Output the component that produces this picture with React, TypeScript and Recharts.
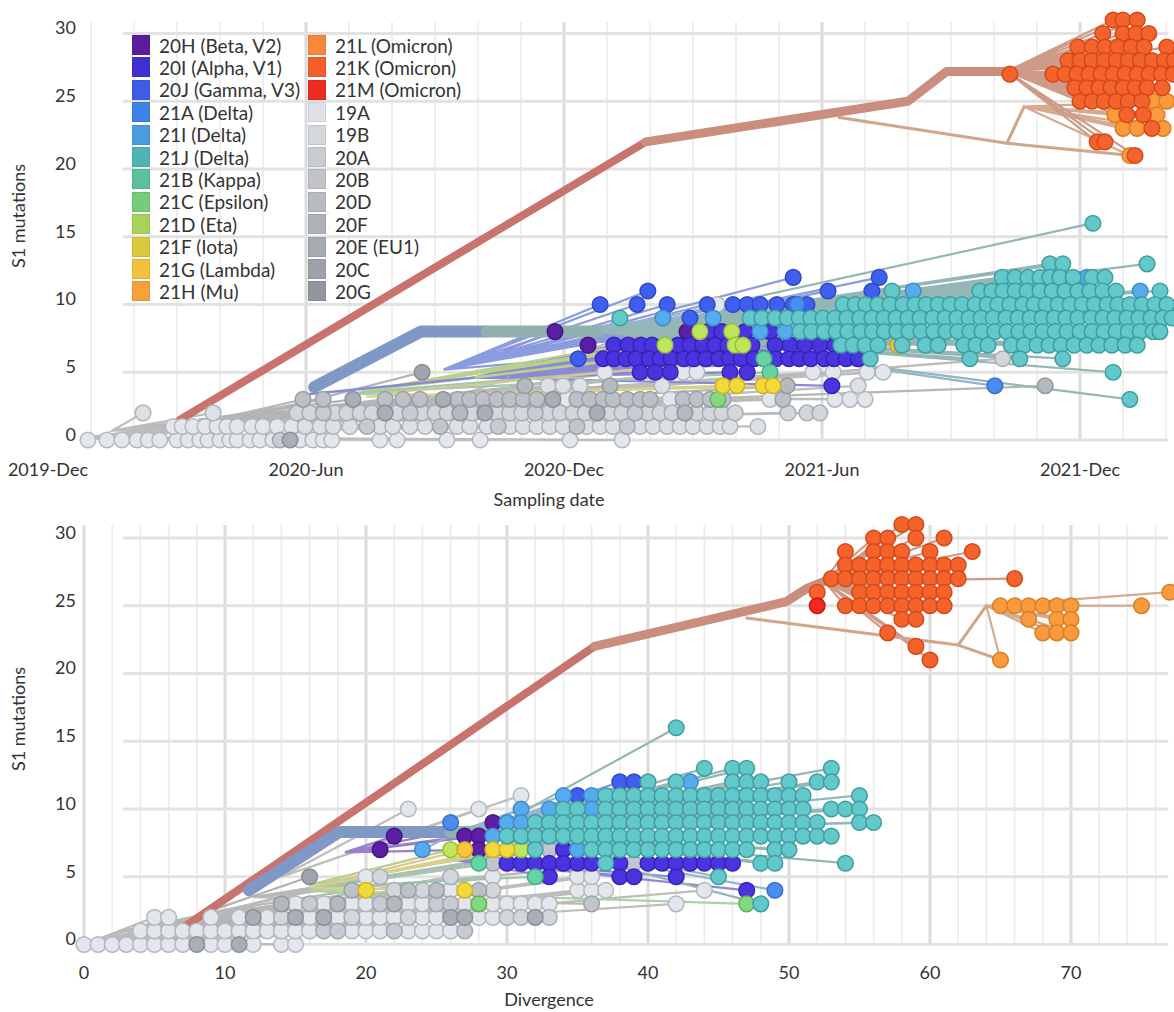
import React from "react";
import { ScatterChart, Scatter, XAxis, YAxis, ReferenceLine } from "recharts";

type Row = [number, number[]]; // [S1 mutations, x values]
type XY = [number, number];

// clade colours: legend swatch, tip fill, tip outline, branch line
const CLADE: Record<string, { legend: string; fill: string; stroke: string; line: string }> = {
  "20H": { legend: "#5a1d9e", fill: "#5d1ea6", stroke: "#461483", line: "#9a80c8" },
  "20I": { legend: "#3f30d4", fill: "#4a34e0", stroke: "#3524b5", line: "#8d88d6" },
  "20J": { legend: "#3d5de6", fill: "#3f5ff0", stroke: "#2f48c4", line: "#8a9be0" },
  "21A": { legend: "#3f82e6", fill: "#4a8cf0", stroke: "#3470c8", line: "#93b3d6" },
  "21I": { legend: "#4a9ddc", fill: "#56aaee", stroke: "#3d8cc8", line: "#93b6d6" },
  "21J": { legend: "#50b3b6", fill: "#62c8ca", stroke: "#3f9ea0", line: "#94b6b4" },
  "21B": { legend: "#5cc19a", fill: "#66d3a4", stroke: "#47ad82", line: "#99c9ae" },
  "21C": { legend: "#77cd77", fill: "#86d87e", stroke: "#62b35c", line: "#a8d3a6" },
  "21D": { legend: "#a7d25c", fill: "#bde65a", stroke: "#99c23e", line: "#b9cf8c" },
  "21F": { legend: "#d9c93d", fill: "#f2d83a", stroke: "#cdb321", line: "#d9cf8a" },
  "21G": { legend: "#f1c23e", fill: "#f8c53e", stroke: "#d6a221", line: "#dcc48e" },
  "21H": { legend: "#f7a13a", fill: "#f8a83e", stroke: "#d98a22", line: "#dcb48e" },
  "21L": { legend: "#f7883b", fill: "#f99a3e", stroke: "#dd7d22", line: "#d6aa8e" },
  "21K": { legend: "#f25d2b", fill: "#f5632d", stroke: "#d54818", line: "#cf9a87" },
  "21M": { legend: "#ed2b22", fill: "#f02a1f", stroke: "#c91810", line: "#cf8a80" },
  "19A": { legend: "#dfe3e7", fill: "#e3e7ec", stroke: "#b3b8be", line: "#bdbdbd" },
  "19B": { legend: "#d4d8dc", fill: "#dde1e6", stroke: "#afb4ba", line: "#bdbdbd" },
  "20A": { legend: "#c9cdd1", fill: "#d3d7dc", stroke: "#a9aeb4", line: "#bababa" },
  "20B": { legend: "#c0c4c9", fill: "#c8ccd2", stroke: "#a2a7ad", line: "#bababa" },
  "20D": { legend: "#b8bcc1", fill: "#c2c6cc", stroke: "#9ea3a9", line: "#b8b8b8" },
  "20F": { legend: "#aeb2b8", fill: "#bcc0c7", stroke: "#9a9fa6", line: "#b8b8b8" },
  "20E": { legend: "#a6aab1", fill: "#b4b8bf", stroke: "#93989f", line: "#b6b6b6" },
  "20C": { legend: "#9ea2aa", fill: "#aaaeb6", stroke: "#8b9098", line: "#b4b4b4" },
  "20G": { legend: "#9296a0", fill: "#a0a4ad", stroke: "#858a93", line: "#b2b2b2" },
};

const legendCol1: [string, string][] = [
  ["20H", "20H (Beta, V2)"], ["20I", "20I (Alpha, V1)"], ["20J", "20J (Gamma, V3)"],
  ["21A", "21A (Delta)"], ["21I", "21I (Delta)"], ["21J", "21J (Delta)"],
  ["21B", "21B (Kappa)"], ["21C", "21C (Epsilon)"], ["21D", "21D (Eta)"],
  ["21F", "21F (Iota)"], ["21G", "21G (Lambda)"], ["21H", "21H (Mu)"],
];
const legendCol2: [string, string][] = [
  ["21L", "21L (Omicron)"], ["21K", "21K (Omicron)"], ["21M", "21M (Omicron)"],
  ["19A", "19A"], ["19B", "19B"], ["20A", "20A"], ["20B", "20B"], ["20D", "20D"],
  ["20F", "20F"], ["20E", "20E (EU1)"], ["20C", "20C"], ["20G", "20G"],
];

const yTicks = [0, 5, 10, 15, 20, 25, 30];

// ---------------- top panel: x = months since 2019-12-01 ----------------
const topXTicks = [0, 6, 12, 18, 24];
const topXTickLabels = ["2019-Dec", "2020-Jun", "2020-Dec", "2021-Jun", "2021-Dec"];
const topMinorLines = [1, 2, 3, 4, 5, 7, 8, 9, 10, 11, 13, 14, 15, 16, 17, 19, 20, 21, 22, 23, 25, 26];
const topMajorLines = [6, 12, 18, 24];

const top19A: Row[] = [
  [0, [0.93, 1.37, 1.72, 2.07, 2.33, 2.6, 3.0, 3.26, 3.53, 3.72, 4.0, 4.23, 4.4, 4.7, 4.93, 5.23, 5.86, 6.16, 6.4, 6.6, 7.72, 8.12, 9.28, 10.05, 12.14, 13.35]],
  [1, [2.91, 3.12, 3.37, 3.65, 3.93, 4.16, 4.4, 4.74, 5.0, 5.33, 5.67]],
  [3, [12.07, 14.47]],
];
const top19AHigh: Row[] = [
  [3, [16.79, 18.3, 18.65, 19.0]],
  [5, [12.95, 14.77, 15.09, 17.79, 18.26, 19.05, 19.42]],
  [7, [17.3]],
  [10, [15.56]],
];
const top19B: Row[] = [
  [1, [5.98, 6.33, 6.63, 7.02, 7.72, 8.02, 8.42, 8.77, 9.51, 9.81, 10.21, 10.74, 11.05, 11.37, 11.67, 11.98, 12.53, 12.84, 13.14, 13.77, 14.07, 14.4, 14.7, 15.0, 15.33, 15.63, 15.86, 16.51]],
  [2, [2.21, 3.84]],
  [4, [11.63, 11.98, 12.37, 14.28, 18.84]],
];
const top20A: Row[] = [
  [2, [5.79, 6.09, 6.67, 6.95, 7.26, 7.53, 8.12, 8.7, 9.0, 9.28, 9.86, 10.44, 10.74, 11.02, 11.63, 11.91, 12.21, 12.49, 13.07, 13.35, 13.95, 14.23, 14.51, 15.09, 15.4, 15.67, 15.98, 17.21, 17.65, 17.95]],
  [6, [22.2]],
];
const top20B: Row[] = [
  [0, [5.4]],
  [1, [7.42, 10.47, 13.47]],
  [2, [6.4, 8.42, 11.33, 13.65]],
];
const top20D: Row[] = [[1, [9.12, 12.3]]];
const top20F: Row[] = [
  [3, [5.93, 6.4, 7.84, 8.26, 8.65, 9.53, 9.81, 10.12, 10.44, 10.74, 11.05, 11.37, 12.3, 12.6, 12.91, 13.14, 13.47, 13.77, 14.0, 14.77, 15.09, 15.4, 15.7, 17.09]],
];
const top20E: Row[] = [
  [2, [9.58, 14.81]],
  [4, [11.09, 13.07, 17.19, 23.19]],
];
const top20C: Row[] = [
  [0, [5.63]],
  [2, [7.84, 10.16, 12.77]],
  [3, [7.09, 9.19, 11.74]],
];
const top20G: Row[] = [[5, [8.7]]];

const top20H: Row[] = [[8, [11.79, 14.86, 15.56]], [7, [12.56]]];
const top20I: Row[] = [
  [8, [15.35, 15.67, 16.21, 16.79]],
  [7, [13.16, 13.49, 13.79, 14.05, 14.65, 14.93, 15.23, 15.51, 15.81, 16.37, 16.91, 17.26, 17.6, 17.95, 18.3]],
  [6, [12.91, 13.16, 13.44, 13.67, 13.98, 14.23, 14.49, 14.79, 15.02, 15.3, 15.6, 15.84, 16.12, 16.42, 16.65, 16.93, 17.23, 17.47, 17.74, 18.05, 18.28, 18.56, 18.84]],
  [5, [13.77, 14.12, 14.47, 15.86, 16.26]],
  [4, [18.23]],
];
const top20J: Row[] = [
  [12, [17.33, 19.33]],
  [11, [13.95, 18.14, 19.16]],
  [10, [12.84, 13.7, 14.4, 15.33, 15.93, 16.26, 16.56, 16.95, 17.33, 17.65]],
  [9, [14.93]],
  [6, [12.33]],
];
const top21A: Row[] = [[10, [17.42]], [4, [22.02]]];
const top21I: Row[] = [[12, [24.16]], [11, [20.12, 25.4]], [9, [14.3, 15.47]], [8, [16.56, 17.14]]];
const top21B: Row[] = [[6, [16.65]], [5, [16.79]]];
const top21C: Row[] = [[3, [15.58]]];
const top21D: Row[] = [[8, [15.16, 15.9]], [7, [14.35, 15.98, 16.16]]];
const top21F: Row[] = [[4, [15.7, 16.02, 16.63, 16.86]]];
const top21G: Row[] = [[7, [19.77]]];
const top21J: Row[] = [
  [16, [24.3]],
  [13, [23.3, 23.6, 25.56]],
  [12, [22.19, 22.49, 22.79, 23.07, 23.3, 23.53, 23.84, 24.28, 24.58]],
  [11, [19.63, 21.67, 21.95, 22.21, 22.49, 22.77, 23.07, 23.35, 23.65, 23.95, 24.23, 24.53, 24.84, 25.86]],
  [10, [18.49, 18.77, 19.02, 19.3, 19.58, 19.88, 20.16, 20.42, 20.7, 20.98, 21.26, 21.56, 21.84, 22.09, 22.37, 22.67, 22.93, 23.21, 23.49, 23.77, 24.05, 24.33, 24.63, 24.88, 25.16, 25.44, 25.74, 26.02]],
  [9, [13.3, 16.33, 16.6, 16.91, 17.19, 17.47, 17.74, 18.02, 18.3, 18.58, 18.88, 19.16, 19.44, 19.72, 20.0, 20.28, 20.58, 20.86, 21.14, 21.42, 21.7, 21.98, 22.28, 22.56, 22.84, 23.12, 23.4, 23.67, 23.95, 24.26, 24.53, 24.81, 25.09, 25.37, 25.65, 25.93, 26.14]],
  [8, [17.49, 17.75, 18.05, 18.33, 18.6, 18.9, 19.17, 19.45, 19.74, 20.02, 20.3, 20.6, 20.88, 21.16, 21.44, 21.72, 22.02, 22.3, 22.58, 22.86, 23.14, 23.42, 23.7, 24.0, 24.28, 24.56, 24.84, 25.12, 25.4, 25.7, 25.86]],
  [7, [18.44, 18.72, 19.0, 19.3, 19.86, 20.4, 20.7, 21.3, 21.58, 21.86, 22.4, 22.7, 23.0, 23.28, 23.56, 23.86, 24.16, 24.44, 24.74, 25.05, 25.33]],
  [6, [19.12, 21.44, 22.6, 23.6]],
  [5, [24.77]],
  [3, [25.16]],
];
const top21L: Row[] = [[25, [25.7, 26.02]], [24, [24.81, 25.79]], [23, [25.0, 25.33, 25.93]], [21, [25.16]]];
const top21K: Row[] = [
  [31, [24.77, 25.0, 25.33]],
  [30, [24.53, 25.0, 25.3, 25.6]],
  [29, [23.95, 24.28, 24.58, 24.88, 25.19, 25.49, 26.02]],
  [28, [23.72, 24.0, 24.28, 24.56, 24.84, 25.12, 25.4, 25.68, 25.96, 26.19]],
  [27, [22.37, 23.37, 23.65, 23.93, 24.21, 24.49, 24.77, 25.05, 25.33, 25.61, 25.89, 26.17]],
  [26, [23.88, 24.16, 24.44, 24.72, 25.0, 25.28, 25.56, 25.91]],
  [25, [24.0, 24.28, 24.56, 24.84, 25.12, 25.44]],
  [24, [25.09, 25.47]],
  [23, [25.67]],
  [22, [24.4, 24.58]],
  [21, [25.28]],
];

// internal branches (thick trunks and a few inner nodes)
const topOmicronTrunkLow: XY[] = [[3.07, 1.5], [13.9, 22]];
const topOmicronTrunkHigh: XY[] = [[13.9, 22], [20.0, 25], [20.9, 27.2], [22.3, 27.2]];
const topOmicronSide: XY[] = [[18.4, 23.8], [22.3, 21.9], [22.7, 24.6]];
const topOmicronSide2: XY[] = [[22.3, 21.9], [25.2, 21]];
const topAlphaTrunk: XY[] = [[6.19, 3.9], [8.67, 8], [10.2, 8]];
const topDeltaTrunk: XY[] = [[10.2, 8], [12.8, 8]];
const topAlphaStem: XY[] = [[5.8, 3.3], [9.9, 4.6]];

// ---------------- bottom panel: x = divergence ----------------
const bottomXTicks = [0, 10, 20, 30, 40, 50, 60, 70];
const bottomMinorLines = [2, 4, 6, 8, 12, 14, 16, 18, 22, 24, 26, 28, 32, 34, 36, 38, 42, 44, 46, 48, 52, 54, 56, 58, 62, 64, 66, 68, 72, 74, 76];
const bottomMajorLines = [0, 10, 20, 30, 40, 50, 60, 70];

const bottom19A: Row[] = [
  [0, [0, 1, 2, 3, 4, 5, 6, 7, 9, 10, 12, 14, 15]],
  [1, [4, 5, 6, 7, 8, 9, 10, 11, 12, 13, 14, 15, 16, 19, 20, 21, 23, 24, 25, 26]],
  [2, [5, 6, 9, 11, 13, 16, 18, 20, 21, 22, 24, 25, 28, 29]],
  [3, [15, 17, 19, 20, 23, 24, 27, 29, 30, 31, 32, 33, 42]],
  [4, [26, 35, 36, 37, 44]],
  [5, [20, 29, 35, 36]],
];
const bottom19AHigh: Row[] = [[10, [23, 28]], [11, [31]]];
const bottom20A: Row[] = [[2, [14, 19, 23, 30, 31, 33]], [4, [22, 24, 29]], [5, [21, 26]]];
const bottom20B: Row[] = [[1, [17, 18, 22, 27]], [3, [16, 21, 25, 26]]];
const bottom20C: Row[] = [[0, [8, 11]], [2, [12, 15, 17, 26, 27, 32]]];
const bottom20D: Row[] = [[3, [36]], [6, [29, 39]], [7, [33]]];
const bottom20E: Row[] = [[3, [14, 18, 22]]];
const bottom20F: Row[] = [[4, [19, 23, 25, 28]]];
const bottom20G: Row[] = [[5, [16]]];

const bottom20H: Row[] = [[9, [29]], [8, [22, 27, 28]], [7, [21, 28]]];
const bottom20I: Row[] = [
  [7, [34]],
  [6, [30, 31, 32, 33, 34, 35, 36, 38, 40, 41, 42, 43, 44, 45, 46]],
  [5, [33, 38, 39, 42]],
  [4, [47]],
];
const bottom20J: Row[] = [[12, [38, 39]], [11, [35]]];
const bottom21A: Row[] = [[9, [26]], [4, [49]]];
const bottom21I: Row[] = [[12, [43]], [11, [34, 36]], [10, [31, 33, 36]], [9, [30, 31]], [8, [29]], [7, [24, 35]]];
const bottom21B: Row[] = [[6, [28]], [5, [32]]];
const bottom21C: Row[] = [[3, [28, 47]]];
const bottom21D: Row[] = [[7, [26, 31]]];
const bottom21F: Row[] = [[7, [29, 30]], [4, [20, 27]]];
const bottom21G: Row[] = [[7, [27]]];
const bottom21J: Row[] = [
  [16, [42]],
  [13, [44, 46, 47, 53]],
  [12, [40, 42, 46, 47, 48, 50, 52, 53]],
  [11, [37, 38, 39, 40, 41, 42, 43, 44, 45, 46, 47, 48, 49, 50, 51, 55]],
  [10, [34, 35, 37, 38, 39, 40, 41, 42, 43, 44, 45, 46, 47, 48, 49, 50, 51, 53, 54, 55]],
  [9, [32, 33, 34, 35, 36, 37, 38, 39, 40, 41, 42, 43, 44, 45, 46, 47, 48, 49, 50, 51, 52, 55, 56]],
  [8, [30, 31, 32, 33, 34, 35, 36, 37, 38, 39, 40, 41, 42, 43, 44, 45, 46, 47, 48, 49, 50, 51, 52, 53]],
  [7, [32, 36, 37, 38, 39, 40, 41, 42, 43, 44, 45, 46, 47, 49, 50]],
  [6, [37, 48, 49, 54]],
  [5, [45]],
  [3, [48]],
];
const bottom21L: Row[] = [[26, [77]], [25, [65, 66, 67, 68, 69, 70, 75]], [24, [67, 69, 70]], [23, [68, 69, 70]], [21, [65]]];
const bottom21K: Row[] = [
  [31, [58, 59]],
  [30, [56, 57, 59, 61]],
  [29, [54, 56, 57, 58, 60, 63]],
  [28, [54, 55, 56, 57, 58, 59, 60, 61, 62]],
  [27, [53, 54, 55, 56, 57, 58, 59, 60, 61, 62, 66]],
  [26, [52, 55, 56, 57, 58, 59, 60, 61]],
  [25, [54, 55, 56, 57, 58, 59, 60, 61]],
  [24, [58, 59]],
  [23, [57]],
  [22, [59]],
  [21, [60]],
];
const bottom21M: Row[] = [[25, [52]]];

const bottomOmicronTrunkLow: XY[] = [[7.4, 1.5], [36.2, 22]];
const bottomOmicronTrunkHigh: XY[] = [[36.2, 22], [49.8, 25.3], [51.3, 26.3], [52.5, 26.8]];
const bottomOmicronSide: XY[] = [[47, 24.1], [62, 22.1], [64, 25]];
const bottomOmicronSide2: XY[] = [[62, 22.1], [65, 21]];
const bottomAlphaTrunk: XY[] = [[11.7, 4], [18.1, 8.3], [26, 8.3]];
const bottomDeltaTrunk: XY[] = [[26, 8.3], [29.5, 8.3]];

// ---------------- helpers ----------------
interface Group { clade: string; rows: Row[]; root: XY }
interface Branch { pts: XY[]; color: string; width: number }

const toPoints = (rows: Row[]) => rows.flatMap(([y, xs]) => xs.map((x) => ({ x, y })));
const fanPath = (root: XY, rows: Row[]) =>
  toPoints(rows).flatMap((p) => [{ x: root[0], y: root[1] }, p]);

const topGroups: Group[] = [
  { clade: "19A", rows: top19A, root: [0.9, 0.2] },
  { clade: "19A", rows: top19AHigh, root: [9.5, 3.2] },
  { clade: "19B", rows: top19B, root: [1.5, 0.7] },
  { clade: "20A", rows: top20A, root: [2.4, 1.1] },
  { clade: "20B", rows: top20B, root: [2.2, 1.0] },
  { clade: "20D", rows: top20D, root: [3.0, 1.2] },
  { clade: "20F", rows: top20F, root: [4.0, 1.6] },
  { clade: "20E", rows: top20E, root: [4.5, 1.8] },
  { clade: "20C", rows: top20C, root: [3.5, 1.5] },
  { clade: "20G", rows: top20G, root: [5.0, 2.0] },
  { clade: "20H", rows: top20H, root: [10.6, 6.6] },
  { clade: "20J", rows: top20J, root: [9.2, 5.2] },
  { clade: "20I", rows: top20I, root: [9.9, 4.6] },
  { clade: "21A", rows: top21A, root: [12.6, 8.3] },
  { clade: "21I", rows: top21I, root: [12.6, 8.3] },
  { clade: "21B", rows: top21B, root: [7.2, 3.5] },
  { clade: "21C", rows: top21C, root: [7.2, 3.4] },
  { clade: "21D", rows: top21D, root: [7.3, 3.6] },
  { clade: "21F", rows: top21F, root: [7.4, 3.2] },
  { clade: "21G", rows: top21G, root: [7.6, 3.4] },
  { clade: "21J", rows: top21J, root: [12.8, 8.0] },
  { clade: "21L", rows: top21L, root: [22.7, 24.6] },
  { clade: "21K", rows: top21K, root: [22.3, 27.2] },
];

const topBranches: Branch[] = [
  { pts: topAlphaStem, color: "#8d88d6", width: 2.5 },
  { pts: topOmicronSide, color: "#d2a58a", width: 3 },
  { pts: topOmicronSide2, color: "#d2a58a", width: 3 },
  { pts: topOmicronTrunkLow, color: "#c9736f", width: 8 },
  { pts: topOmicronTrunkHigh, color: "#c98e7d", width: 9 },
  { pts: topAlphaTrunk, color: "#7f98c6", width: 12 },
  { pts: topDeltaTrunk, color: "#90b1af", width: 12 },
];

const bottomGroups: Group[] = [
  { clade: "19A", rows: bottom19A, root: [0.5, 0.2] },
  { clade: "19A", rows: bottom19AHigh, root: [14, 5] },
  { clade: "20A", rows: bottom20A, root: [3, 1] },
  { clade: "20B", rows: bottom20B, root: [2.5, 1] },
  { clade: "20C", rows: bottom20C, root: [4, 1.2] },
  { clade: "20D", rows: bottom20D, root: [12, 3.5] },
  { clade: "20E", rows: bottom20E, root: [6, 1.5] },
  { clade: "20F", rows: bottom20F, root: [8, 2.2] },
  { clade: "20G", rows: bottom20G, root: [9, 2.5] },
  { clade: "20H", rows: bottom20H, root: [18.5, 6.8] },
  { clade: "20J", rows: bottom20J, root: [27, 8] },
  { clade: "20I", rows: bottom20I, root: [26, 6.3] },
  { clade: "21A", rows: bottom21A, root: [26.5, 8.3] },
  { clade: "21I", rows: bottom21I, root: [26.5, 8.3] },
  { clade: "21B", rows: bottom21B, root: [16, 4.2] },
  { clade: "21C", rows: bottom21C, root: [16, 4.0] },
  { clade: "21D", rows: bottom21D, root: [16, 4.4] },
  { clade: "21F", rows: bottom21F, root: [16, 4.2] },
  { clade: "21G", rows: bottom21G, root: [16.5, 4.3] },
  { clade: "21J", rows: bottom21J, root: [28.5, 8.3] },
  { clade: "21L", rows: bottom21L, root: [64, 25] },
  { clade: "21K", rows: bottom21K, root: [52.5, 26.8] },
  { clade: "21M", rows: bottom21M, root: [51.5, 26.4] },
];

const bottomBranches: Branch[] = [
  { pts: bottomOmicronSide, color: "#d2a58a", width: 3 },
  { pts: bottomOmicronSide2, color: "#d2a58a", width: 3 },
  { pts: bottomOmicronTrunkLow, color: "#c9736f", width: 8 },
  { pts: bottomOmicronTrunkHigh, color: "#c98e7d", width: 9 },
  { pts: bottomAlphaTrunk, color: "#7f98c6", width: 12 },
  { pts: bottomDeltaTrunk, color: "#90b1af", width: 12 },
];

const FONT = "Lato, 'Open Sans', sans-serif";
const TEXT = "#333";

const tipShape = (clade: string) => (p: any) => (
  <circle cx={p.cx} cy={p.cy} r={7.8} fill={CLADE[clade].fill} stroke={CLADE[clade].stroke} strokeWidth={1.5} />
);
const noShape = () => <g />;

interface PanelProps {
  top: number;
  height: number;
  marginTop: number;
  xAxisHeight: number;
  xDomain: [number, number];
  yDomain: [number, number];
  xTicks: number[];
  xTickText: (v: number) => string;
  xTickBaseline: number;
  minorLines: number[];
  majorLines: number[];
  vTop: number;
  hFrom: number;
  hTo: number;
  groups: Group[];
  branches: Branch[];
  xTitle: string;
  xTitleBaseline: number;
  yTitleCenter: number;
}

function TreePanel(p: PanelProps) {
  return (
    <div style={{ position: "absolute", left: 0, top: p.top, width: 1174, height: p.height }}>
      <ScatterChart
        width={1174}
        height={p.height}
        margin={{ top: p.marginTop, right: 0, bottom: 0, left: 0 }}
        style={{ overflow: "visible" }}
      >
        <XAxis
          type="number"
          dataKey="x"
          domain={p.xDomain}
          allowDataOverflow
          ticks={p.xTicks}
          interval={0}
          axisLine={false}
          tickLine={false}
          height={p.xAxisHeight}
          tick={(t: any) => (
            <text x={t.x} y={p.xTickBaseline} textAnchor="middle" fontSize={18} fill={TEXT} fontFamily={FONT}>
              {p.xTickText(t.payload.value)}
            </text>
          )}
          label={{
            content: () => (
              <text x={549} y={p.xTitleBaseline} textAnchor="middle" fontSize={18} fill={TEXT} fontFamily={FONT}>
                {p.xTitle}
              </text>
            ),
          }}
        />
        <YAxis
          type="number"
          dataKey="y"
          domain={p.yDomain}
          allowDataOverflow
          ticks={yTicks}
          interval={0}
          axisLine={false}
          tickLine={false}
          width={40}
          tick={(t: any) => (
            <text x={76} y={t.y + 1} textAnchor="end" fontSize={18} fill={TEXT} fontFamily={FONT}>
              {t.payload.value}
            </text>
          )}
          label={{
            content: () => (
              <text
                transform={`translate(25, ${p.yTitleCenter}) rotate(-90)`}
                textAnchor="middle"
                fontSize={18}
                fill={TEXT}
                fontFamily={FONT}
              >
                S1 mutations
              </text>
            ),
          }}
        />

        {p.minorLines.map((v) => (
          <ReferenceLine key={`vm${v}`} segment={[{ x: v, y: 0 }, { x: v, y: p.vTop }]} stroke="#ebebeb" strokeWidth={1.6} />
        ))}
        {p.majorLines.map((v) => (
          <ReferenceLine key={`vM${v}`} segment={[{ x: v, y: 0 }, { x: v, y: p.vTop }]} stroke="#dcdcdc" strokeWidth={3} />
        ))}
        {yTicks.map((v) => (
          <ReferenceLine key={`h${v}`} segment={[{ x: p.hFrom, y: v }, { x: p.hTo, y: v }]} stroke="#e2e2e2" strokeWidth={3} />
        ))}

        {p.groups.map((g, i) => (
          <Scatter
            key={`fan${i}`}
            data={fanPath(g.root, g.rows)}
            line={{ stroke: CLADE[g.clade].line, strokeWidth: 2.2, fill: "none" }}
            shape={noShape}
            isAnimationActive={false}
          />
        ))}
        {p.branches.map((b, i) => (
          <Scatter
            key={`br${i}`}
            data={b.pts.map(([x, y]) => ({ x, y }))}
            line={{ stroke: b.color, strokeWidth: b.width, fill: "none", strokeLinejoin: "round", strokeLinecap: "round" }}
            shape={noShape}
            isAnimationActive={false}
          />
        ))}
        {p.groups.map((g, i) => (
          <Scatter key={`tip${i}`} data={toPoints(g.rows)} shape={tipShape(g.clade)} isAnimationActive={false} />
        ))}
      </ScatterChart>
    </div>
  );
}

function Legend() {
  const col = (items: [string, string][], left: number) =>
    items.map(([clade, label], i) => (
      <div
        key={clade}
        style={{ position: "absolute", left, top: 35 + i * 22.4, height: 20, display: "flex", alignItems: "center" }}
      >
        <div
          style={{
            width: 18,
            height: 20,
            background: CLADE[clade].legend,
            boxShadow: "inset 0 0 0 1px rgba(0,0,0,0.08)",
            marginRight: 9,
            flexShrink: 0,
          }}
        />
        <span style={{ fontSize: 19, color: TEXT, fontFamily: FONT, whiteSpace: "nowrap" }}>{label}</span>
      </div>
    ));
  return (
    <>
      {col(legendCol1, 132)}
      {col(legendCol2, 308)}
    </>
  );
}

export default function App() {
  return (
    <div style={{ position: "absolute", left: 0, top: 0, width: 1174, height: 1012, background: "#fff", overflow: "hidden" }}>
      <TreePanel
        top={0}
        height={512}
        marginTop={10}
        xAxisHeight={52}
        xDomain={[-0.186, 26.186]}
        yDomain={[-1.476, 31.734]}
        xTicks={topXTicks}
        xTickText={(v) => topXTickLabels[topXTicks.indexOf(v)]}
        xTickBaseline={476}
        minorLines={topMinorLines}
        majorLines={topMajorLines}
        vTop={30.85}
        hFrom={1.74}
        hTo={26.05}
        groups={topGroups}
        branches={topBranches}
        xTitle="Sampling date"
        xTitleBaseline={506}
        yTitleCenter={216}
      />
      <TreePanel
        top={505}
        height={507}
        marginTop={5}
        xAxisHeight={52}
        xDomain={[-3.121, 77.305]}
        yDomain={[-1.144, 32.066]}
        xTicks={bottomXTicks}
        xTickText={(v) => String(v)}
        xTickBaseline={474}
        minorLines={bottomMinorLines}
        majorLines={bottomMajorLines}
        vTop={30.96}
        hFrom={2.77}
        hTo={76.9}
        groups={bottomGroups}
        branches={bottomBranches}
        xTitle="Divergence"
        xTitleBaseline={501}
        yTitleCenter={214}
      />
      <Legend />
    </div>
  );
}
